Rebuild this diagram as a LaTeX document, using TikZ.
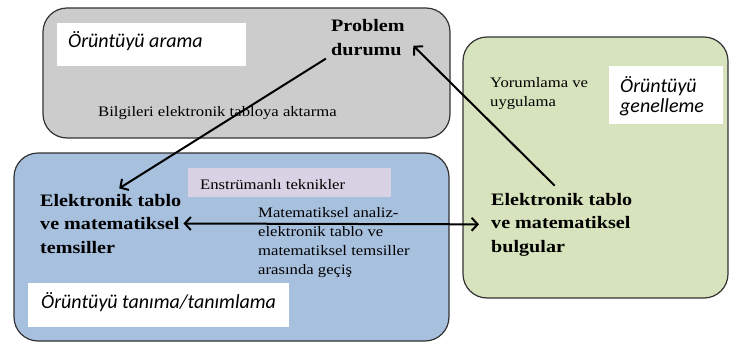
\documentclass[tikz,border=0pt]{standalone}
\usepackage{fontspec}
\setmainfont{Liberation Serif}[FakeStretch=1.15]
\newfontfamily\calfont{Carlito}
\usetikzlibrary{arrows.meta}
\definecolor{areagray}{RGB}{204,204,204}
\definecolor{areablue}{RGB}{167,192,222}
\definecolor{areagreen}{RGB}{214,227,188}
\definecolor{techlilac}{RGB}{217,210,228}
\begin{document}
\begin{tikzpicture}[x=1pt,y=-1pt,
    area/.style={draw=black!80,line width=1.2pt,rounded corners=24pt},
    txt/.style={inner sep=0pt,anchor=base west,align=left,
      font=\fontsize{14.5}{19}\selectfont},
    bold/.style={txt,font=\fontsize{17.5}{23.5}\selectfont\bfseries},
    phase/.style={txt,font=\fontsize{20}{20}\selectfont\calfont\itshape}]
  \useasboundingbox (0,0) rectangle (729,343);
  % the three areas
  \draw[area,fill=areagray] (43,8) rectangle (450,138);
  \draw[area,fill=areagreen] (463,37) rectangle (728,298);
  \draw[area,fill=areablue] (14,153) rectangle (449,341);
  \fill[white] (57,23) rectangle (246,66);
  \fill[white] (609,66) rectangle (723,124);
  \fill[white] (28,283) rectangle (289,327);
  \fill[techlilac] (188,168) rectangle (391,197);
  % base of a node = baseline of its last line
  \draw
    (68,47) node[phase] (arama){Örüntüyü arama}
    (331,55) node[bold] (prob){Problem\\durumu}
    (98,116) node[txt] (aktar){Bilgileri elektronik tabloya aktarma}
    (490,106) node[txt,font=\fontsize{14.5}{19}\selectfont] (yorum){Yorumlama ve\\uygulama}
    (620,112) node[phase] (genel){Örüntüyü\\genelleme}
    (200,189) node[txt] (teknik){Enstrümanlı teknikler}
    (40,253) node[bold] (temsil){Elektronik tablo\\ve matematiksel\\temsiller}
    (491,252) node[bold] (bulgu){Elektronik tablo\\ve matematiksel\\bulgular}
    (258,274) node[txt] (gecis){Matematiksel analiz-\\elektronik tablo ve\\matematiksel temsiller\\arasında geçiş}
    (41,308) node[phase] (tanima){Örüntüyü tanıma/tanımlama};
  \begin{scope}[line width=2pt,-{Straight Barb[length=6pt,width=13pt]}]
    \draw[shorten <=6pt,shorten >=10pt] (prob.south west) to (temsil.north);
    \draw[shorten <=10pt,shorten >=12pt] (bulgu.north) to (prob.east);
    \draw[{Straight Barb[length=6pt,width=13pt]}-{Straight Barb[length=6pt,width=13pt]},
      shorten <=2pt,shorten >=12pt] (temsil.east) to (bulgu.west);
  \end{scope}
\end{tikzpicture}
\end{document}
